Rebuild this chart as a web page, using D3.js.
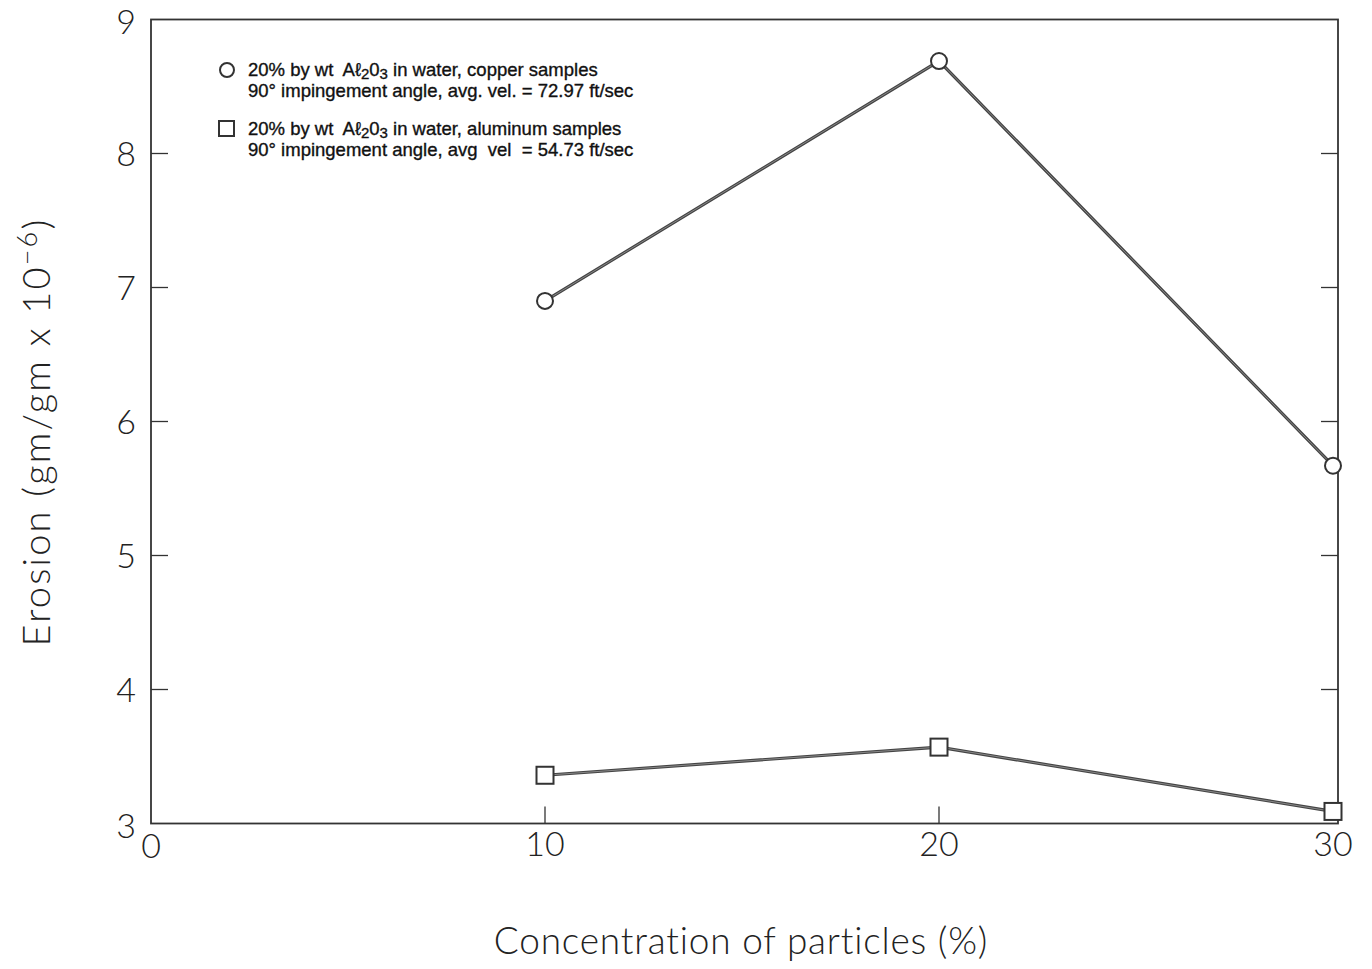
<!DOCTYPE html>
<html><head><meta charset="utf-8">
<script src="https://cdn.jsdelivr.net/npm/d3@7"></script>
<style>body{margin:0;background:#fff}svg{display:block}text{white-space:pre}</style>
</head><body>
<svg id="c" width="1372" height="969"></svg>
<script>
const concentration = [10, 20, 30];
const copperErosion = [6.9, 8.69, 5.67];
const aluminumErosion = [3.36, 3.57, 3.09];
const xTicks = [0, 10, 20, 30];
const xTickLabels = ["0", "10", "20", "30"];
const yTicks = [3, 4, 5, 6, 7, 8, 9];
const legendCopper = ["20% by wt  Aℓ", "2", "0", "3", " in water, copper samples", "90° impingement angle, avg. vel. = 72.97 ft/sec"];
const legendAluminum = ["20% by wt  Aℓ", "2", "0", "3", " in water, aluminum samples", "90° impingement angle, avg  vel  = 54.73 ft/sec"];

const svg = d3.select("#c");
const L = 151, T = 19.5, R = 1338, B = 823.5;
const x = d3.scaleLinear().domain([0, 30]).range([151, 1333]);
const y = d3.scaleLinear().domain([3, 9]).range([B, T]);
const ink = "#333";
const labelFont = "Lato, 'DejaVu Sans', sans-serif";

// frame
svg.append("rect").attr("x", L).attr("y", T).attr("width", R - L).attr("height", B - T)
  .attr("fill", "none").attr("stroke", ink).attr("stroke-width", 1.8);

// ticks inward
const tickLen = 17;
const yt = yTicks.filter(v => v > 3 && v < 9);
svg.append("g").selectAll("line").data(yt).join("line")
  .attr("x1", L).attr("x2", L + tickLen).attr("y1", d => y(d)).attr("y2", d => y(d))
  .attr("stroke", ink).attr("stroke-width", 1.3);
svg.append("g").selectAll("line").data(yt).join("line")
  .attr("x1", R).attr("x2", R - tickLen).attr("y1", d => y(d)).attr("y2", d => y(d))
  .attr("stroke", ink).attr("stroke-width", 1.3);
svg.append("g").selectAll("line").data(xTicks.filter(v => v > 0 && v < 30)).join("line")
  .attr("x1", d => x(d)).attr("x2", d => x(d)).attr("y1", B).attr("y2", B - tickLen)
  .attr("stroke", ink).attr("stroke-width", 1.3);

// tick labels
svg.append("g").selectAll("text").data(yTicks).join("text")
  .attr("x", 126).attr("y", d => d === 9 ? y(d) + 14 : y(d) + (d === 3 ? 14 : 12))
  .attr("text-anchor", "middle").attr("font-family", labelFont)
  .attr("font-weight", 300).attr("font-size", 34).attr("fill", "#222").text(d => d);
svg.append("g").selectAll("text").data(xTicks).join("text")
  .attr("x", d => x(d)).attr("y", (d, i) => i === 0 ? 858 : 856)
  .attr("text-anchor", "middle").attr("font-family", labelFont)
  .attr("font-weight", 300).attr("font-size", 34).attr("fill", "#222")
  .text((d, i) => xTickLabels[i]);

// axis titles
svg.append("text").attr("x", 741).attr("y", 954).attr("text-anchor", "middle")
  .attr("font-family", labelFont).attr("font-weight", 300)
  .attr("font-size", 37).attr("letter-spacing", 0.8).attr("fill", "#222")
  .text("Concentration of particles (%)");
const yt2 = svg.append("text").attr("transform", "translate(50,432) rotate(-90)")
  .attr("text-anchor", "middle").attr("font-family", labelFont)
  .attr("font-weight", 300).attr("font-size", 38).attr("letter-spacing", 2.2).attr("fill", "#222");
yt2.append("tspan").text("Erosion (gm/gm x 10");
yt2.append("tspan").attr("dy", -13).attr("font-size", 27).text("−6");
yt2.append("tspan").attr("dy", 13).text(")");

// lines
const line = d3.line().x(d => x(d[0])).y(d => y(d[1]));
const cData = concentration.map((c, i) => [c, copperErosion[i]]);
const aData = concentration.map((c, i) => [c, aluminumErosion[i]]);
[cData, aData].forEach(data => {
  svg.append("path").attr("d", line(data)).attr("fill", "none")
    .attr("stroke", "#444").attr("stroke-width", 3.2);
  svg.append("path").attr("d", line(data)).attr("fill", "none")
    .attr("stroke", "#999").attr("stroke-width", 0.8);
});

// markers
svg.append("g").selectAll("circle").data(cData).join("circle")
  .attr("cx", d => x(d[0])).attr("cy", d => y(d[1])).attr("r", 8)
  .attr("fill", "#fff").attr("stroke", ink).attr("stroke-width", 2);
svg.append("g").selectAll("rect").data(aData).join("rect")
  .attr("x", d => x(d[0]) - 8.5).attr("y", d => y(d[1]) - 8.5).attr("width", 17).attr("height", 17)
  .attr("fill", "#fff").attr("stroke", ink).attr("stroke-width", 2);

// legend
const legFont = "'Liberation Sans', Arial, sans-serif";
function legendBlock(yy, parts) {
  const t = svg.append("text").attr("x", 248).attr("y", yy)
    .attr("font-family", legFont).attr("font-size", 18.5)
    .attr("fill", "#111").attr("stroke", "#111").attr("stroke-width", 0.35);
  t.append("tspan").text(parts[0]);
  t.append("tspan").attr("dy", 3).attr("font-size", 15).text(parts[1]);
  t.append("tspan").attr("dy", -3).text(parts[2]);
  t.append("tspan").attr("dy", 3).attr("font-size", 15).text(parts[3]);
  t.append("tspan").attr("dy", -3).text(parts[4]);
  svg.append("text").attr("x", 248).attr("y", yy + 21)
    .attr("font-family", legFont).attr("font-size", 18.5)
    .attr("fill", "#111").attr("stroke", "#111").attr("stroke-width", 0.35).text(parts[5]);
}
svg.append("circle").attr("cx", 227).attr("cy", 70).attr("r", 7)
  .attr("fill", "#fff").attr("stroke", ink).attr("stroke-width", 2);
legendBlock(76, legendCopper);
svg.append("rect").attr("x", 219).attr("y", 121).attr("width", 15).attr("height", 15)
  .attr("fill", "#fff").attr("stroke", ink).attr("stroke-width", 2);
legendBlock(135, legendAluminum);
</script>
</body></html>
